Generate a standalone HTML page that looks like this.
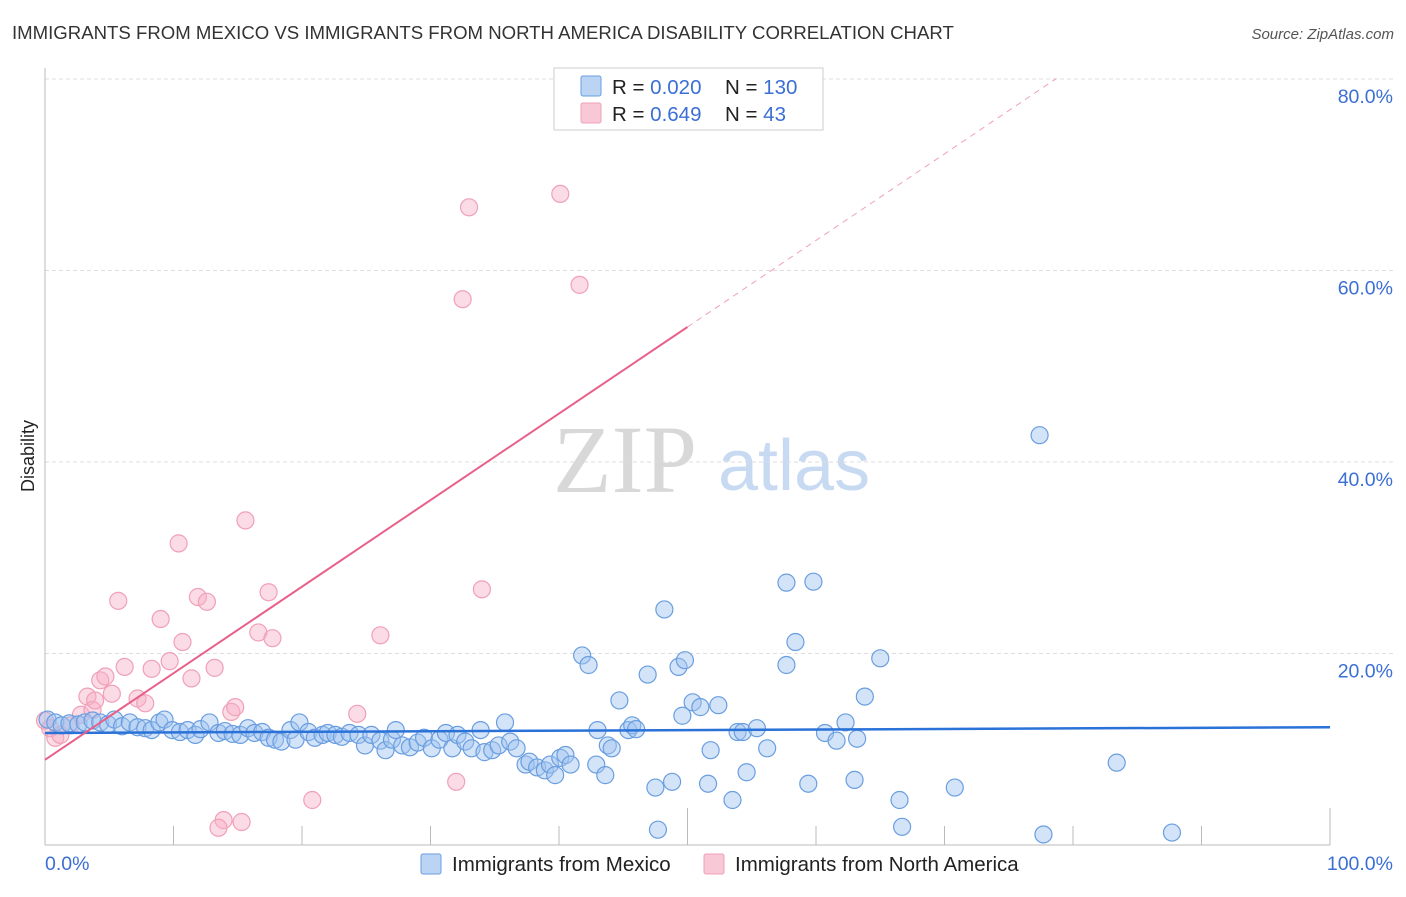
<!DOCTYPE html>
<html><head><meta charset="utf-8"><style>
body{margin:0;background:#fff;font-family:"Liberation Sans",sans-serif;}
svg text{font-family:"Liberation Sans",sans-serif;}
</style></head><body>
<svg id="chart" width="1406" height="892" xmlns="http://www.w3.org/2000/svg">
<text x="12" y="39" font-size="18.6" fill="#333">IMMIGRANTS FROM MEXICO VS IMMIGRANTS FROM NORTH AMERICA DISABILITY CORRELATION CHART</text>
<text x="1394" y="39" font-size="15" fill="#555" font-style="italic" text-anchor="end">Source: ZipAtlas.com</text>
<g>
<text x="553" y="492" font-size="96" fill="#d8d8d8" style="font-family:'Liberation Serif',serif">ZIP</text>
<text x="718" y="490" font-size="72" fill="#c8daf2">atlas</text>
</g>
<g id="grid"></g>
<g id="axes"></g>
<g id="pts"></g>
<g id="trends"></g>
<text transform="translate(34,456) rotate(-90)" font-size="18" fill="#222" text-anchor="middle">Disability</text>
<g>
<rect x="554" y="68" width="269" height="62" fill="#fff" stroke="#ccc"/>
<rect x="581" y="76" width="20" height="20" fill="#bcd4f4" stroke="#6a9ee0" rx="2"/>
<rect x="581" y="103" width="20" height="20" fill="#f8c8d6" stroke="#f0a0b8" rx="2"/>
<text x="612" y="94" font-size="20.5" fill="#222">R = <tspan fill="#3b6fd4">0.020</tspan></text>
<text x="725" y="94" font-size="20.5" fill="#222">N = <tspan fill="#3b6fd4">130</tspan></text>
<text x="612" y="121" font-size="20.5" fill="#222">R = <tspan fill="#3b6fd4">0.649</tspan></text>
<text x="725" y="121" font-size="20.5" fill="#222">N = <tspan fill="#3b6fd4">  43</tspan></text>
</g>
<g>
<rect x="421" y="854" width="20" height="20" fill="#bcd4f4" stroke="#6a9ee0" rx="2"/>
<text x="452" y="871" font-size="20.5" fill="#222">Immigrants from Mexico</text>
<rect x="704" y="854" width="20" height="20" fill="#f8c8d6" stroke="#f0a0b8" rx="2"/>
<text x="735" y="871" font-size="20.5" fill="#222">Immigrants from North America</text>
</g>
</svg>
<script>
const yTicks=[20,40,60,80];
const yTickLabels=["20.0%","40.0%","60.0%","80.0%"];
const xTicks=[0,10,20,30,40,50,60,70,80,90,100];
const mexicoX=[0.2,0.8,1.3,1.9,2.6,3.1,3.7,4.3,4.9,5.4,6.0,6.6,7.2,7.8,8.3,8.9,9.3,9.9,10.5,11.1,11.7,12.1,12.8,13.5,14.0,14.6,15.2,15.8,16.3,16.9,17.4,17.9,18.4,19.1,19.5,19.8,20.5,21.0,21.6,22.0,22.6,23.1,23.7,24.4,24.9,25.4,26.1,26.5,27.0,27.3,27.8,28.4,29.0,29.5,30.1,30.7,31.2,31.7,32.1,32.7,33.2,33.9,34.2,34.8,35.3,35.8,36.2,36.7,37.4,37.7,38.3,38.9,39.3,39.7,40.1,40.5,40.9,
41.8,42.3,42.9,43.0,43.6,43.8,44.1,44.7,45.4,45.7,46.0,46.9,47.5,47.7,48.2,48.8,49.3,49.6,49.8,50.4,51.0,51.6,51.8,52.4,53.5,53.9,54.3,54.6,55.4,56.2,57.7,57.7,58.4,59.4,59.8,60.7,61.6,62.3,63.0,63.2,63.8,65.0,66.5,66.7,70.8,77.4,77.7,83.4,87.7];
const mexicoY=[13.1,12.8,12.5,12.7,12.6,12.8,13.0,12.8,12.6,13.1,12.4,12.8,12.3,12.2,12.0,12.8,13.1,12.0,11.8,12.0,11.5,12.1,12.8,11.7,11.9,11.6,11.5,12.2,11.7,11.8,11.2,11.0,10.8,12.0,11.0,12.8,11.8,11.2,11.5,11.7,11.5,11.3,11.7,11.5,10.4,11.5,10.9,9.9,11.0,12.0,10.4,10.2,10.7,11.2,10.1,11.0,11.7,10.1,11.5,10.8,10.1,12.0,9.7,9.9,10.4,12.8,10.8,10.1,8.4,8.7,8.1,7.8,8.4,7.3,9.1,9.4,8.4,
19.8,18.8,8.4,12.0,7.3,10.4,10.1,15.1,12.0,12.5,12.1,17.8,6.0,1.6,24.6,6.6,18.6,13.5,19.3,14.9,14.4,6.4,9.9,14.6,4.7,11.8,11.8,7.6,12.2,10.1,27.4,18.8,21.2,6.4,27.5,11.7,10.9,12.8,6.8,11.1,15.5,19.5,4.7,1.9,6.0,42.8,1.1,8.6,1.3];
const naX=[0,0.4,0.8,1.2,2,2.8,3.3,3.7,3.9,4.3,4.7,5.2,5.7,6.2,7.2,7.8,8.3,9,9.7,10.4,10.7,11.4,11.9,12.6,13.2,13.9,13.5,14.5,14.8,15.3,15.6,16.6,17.4,17.7,20.8,24.3,26.1,32,32.5,33,34,40.1,41.6];
const naY=[13.0,12.2,11.2,11.5,12.5,13.6,15.5,14.1,15.1,17.2,17.6,15.8,25.5,18.6,15.3,14.8,18.4,23.6,19.2,31.5,21.2,17.4,25.9,25.4,18.5,2.6,1.8,13.9,14.4,2.4,33.9,22.2,26.4,21.6,4.7,13.7,21.9,6.6,57.0,66.6,26.7,68,58.5];
const X0=45,X1=1330,Y0=845,PY=9.575;
const sx=v=>X0+(X1-X0)*v/100, sy=v=>Y0-v*PY;
const NS="http://www.w3.org/2000/svg";
function mk(t,a,p){const e=document.createElementNS(NS,t);for(const k in a)e.setAttribute(k,a[k]);p.appendChild(e);return e;}
const grid=document.getElementById('grid'),axes=document.getElementById('axes');
yTicks.forEach((v,i)=>{
 const l=mk('line',{x1:X0,x2:1394,y1:sy(v),y2:sy(v),stroke:'#ddd','stroke-dasharray':'4,3'},grid);
 
 
 const t=mk('text',{x:1393,y:sy(v)+24,'font-size':19.5,fill:'#3b6fd4','text-anchor':'end'},axes);
 t.textContent=yTickLabels[i];
 
 
});
mk('line',{x1:X0,x2:X0,y1:68,y2:Y0,stroke:'#bbb'},axes);
mk('line',{x1:X0,x2:X1,y1:Y0,y2:Y0,stroke:'#bbb'},axes);
xTicks.forEach(v=>{
 const tk=mk('line',{x1:sx(v),x2:sx(v),y1:v%50===0?808:826,y2:Y0,stroke:'#bbb'},axes);
 
 
});
const xl0=mk('text',{x:45,y:870,'font-size':19.5,fill:'#3b6fd4'},axes);xl0.textContent='0.0%';


const xl1=mk('text',{x:1393,y:870,'font-size':19.5,fill:'#3b6fd4','text-anchor':'end'},axes);xl1.textContent='100.0%';


const pts=document.getElementById('pts');
naX.forEach((x,i)=>{
 const c=mk('circle',{cx:sx(x),cy:sy(naY[i]),r:8.5,fill:'rgba(246,176,198,0.45)',stroke:'#f0a0b8','stroke-width':1.2},pts);
 
 
});
mexicoX.forEach((x,i)=>{
 const c=mk('circle',{cx:sx(x),cy:sy(mexicoY[i]),r:8.5,fill:'rgba(160,196,240,0.45)',stroke:'#6a9ee0','stroke-width':1.2},pts);
 
 
});
const tr=document.getElementById('trends');
const bl=mk('line',{x1:sx(0),y1:sy(11.7),x2:sx(100),y2:sy(12.3),stroke:'#2a72d8','stroke-width':2.5},tr);


const pa=8.9,pb=0.904;
const ps=mk('line',{x1:sx(0),y1:sy(pa),x2:sx(50),y2:sy(pa+pb*50),stroke:'#e8608a','stroke-width':2},tr);


const pd=mk('line',{x1:sx(50),y1:sy(pa+pb*50),x2:sx(78.7),y2:sy(pa+pb*78.7),stroke:'#f0a0b8','stroke-width':1,'stroke-dasharray':'6,5'},tr);


</script>
</body></html>
